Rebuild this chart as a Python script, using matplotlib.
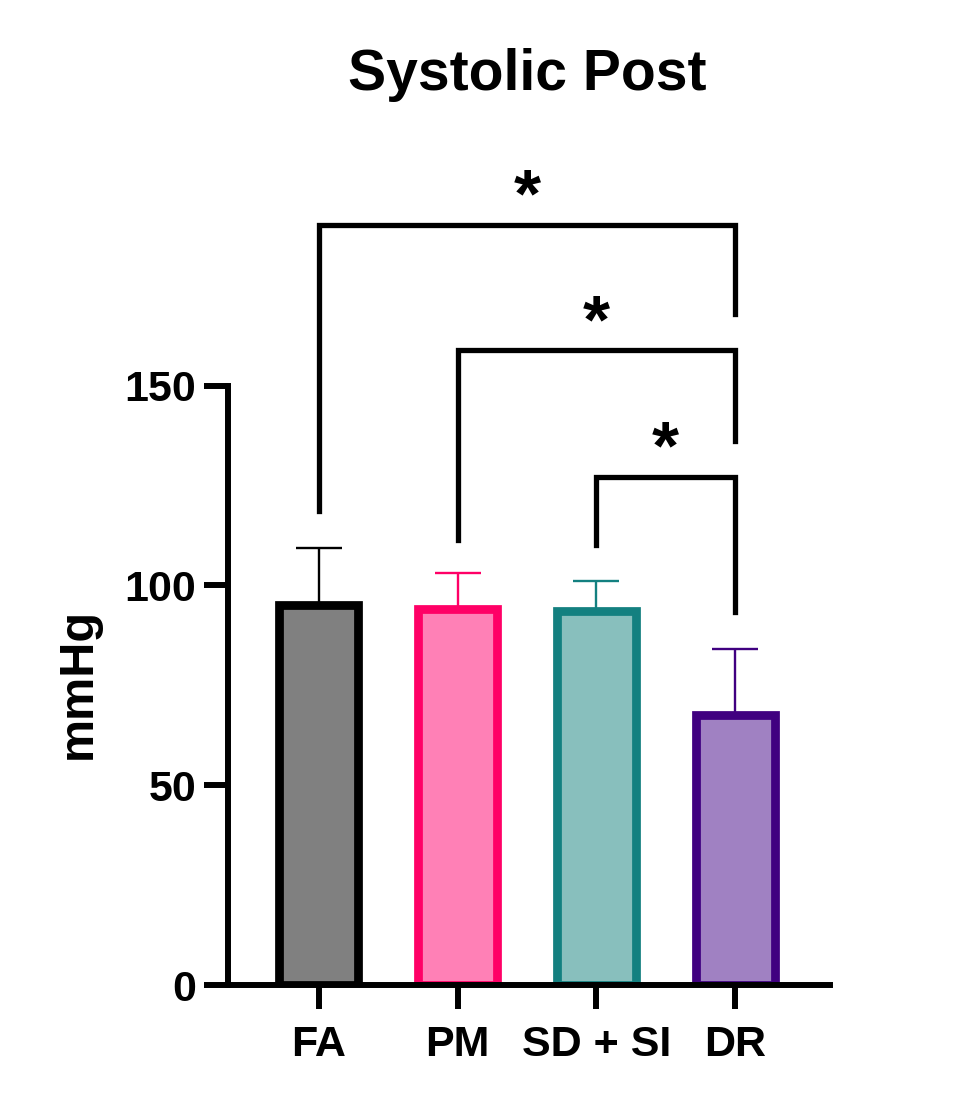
import matplotlib
matplotlib.use("Agg")
import matplotlib.pyplot as plt

plt.rcParams['font.family'] = ['Liberation Sans', 'DejaVu Sans']
plt.rcParams['font.weight'] = 'bold'

# data
groups = ['FA', 'PM', 'SD + SI', 'DR']
means = [95.2, 94.2, 93.7, 67.6]
sd_upper = [14.2, 8.8, 7.5, 16.5]
fills = ['#808080', '#FF80B6', '#88BFBD', '#A081C2']
edges = ['#000000', '#FF0066', '#138080', '#400080']

# significance brackets: (left bar, right bar, top y, left leg end, right leg end)
bracket_x1 = [0, 1, 2]
bracket_x2 = [3, 3, 3]
bracket_y = [190.3, 158.8, 127.2]
leg_left = [118.5, 111.4, 110.0]
leg_right = [167.8, 136.2, 93.4]
marks = ['*', '*', '*']

fig = plt.figure(figsize=(9.66, 11.07), dpi=100)
ax = fig.add_axes([0.236, 0.1102, 0.623, 0.722])

x = list(range(len(groups)))
for i in x:
    ax.bar(i, means[i], width=0.57, color=fills[i], edgecolor=edges[i],
           linewidth=6.3, zorder=2)
    ax.errorbar(i, means[i], yerr=[[0], [sd_upper[i]]], fmt='none',
                ecolor=edges[i], elinewidth=1.7, capsize=16.5, capthick=1.7,
                zorder=1)

for x1, x2, y, l1, l2, m in zip(bracket_x1, bracket_x2, bracket_y,
                                leg_left, leg_right, marks):
    ax.plot([x1, x1, x2, x2], [l1, y, y, l2], color='black', lw=3.8,
            solid_joinstyle='miter', clip_on=False)
    ax.text((x1 + x2) / 2, y + 6.5, m, ha='center', va='center',
            fontsize=50, fontweight='bold')

ax.set_xlim(-0.655, 3.683)
ax.set_ylim(0, 200)
ax.set_yticks([0, 50, 100, 150])
ax.set_xticks(x)
ax.set_xticklabels(groups)
ax.spines['top'].set_visible(False)
ax.spines['right'].set_visible(False)
ax.spines['left'].set_bounds(0, 150)
for s in ['left', 'bottom']:
    ax.spines[s].set_linewidth(4.3)
ax.tick_params(axis='both', length=17, width=4.3, labelsize=31, pad=6)
ax.tick_params(axis='x', pad=12)

fig.text(0.546, 1 - 75 / 1107, 'Systolic Post', ha='center', va='center',
         fontsize=41, fontweight='bold')
fig.text(78 / 966, 1 - 683 / 1107, 'mmHg', rotation=90, ha='center',
         va='center', fontsize=35, fontweight='bold')

fig.savefig('out.png', dpi=100)
